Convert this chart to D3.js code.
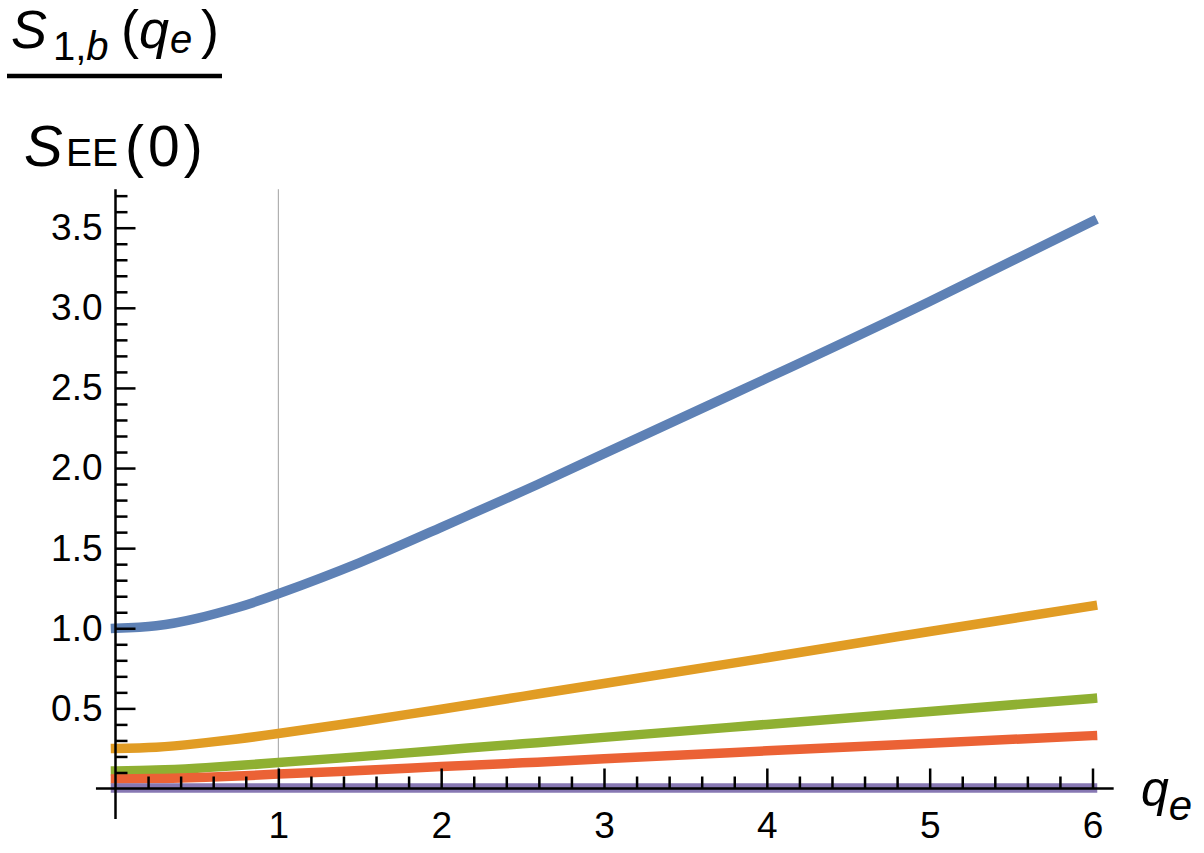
<!DOCTYPE html>
<html><head><meta charset="utf-8">
<script src="https://cdn.jsdelivr.net/npm/d3@7"></script>
<style>body{margin:0;background:#fff}svg{display:block}</style>
</head><body>
<svg id="c" width="1204" height="853"></svg>
<script>
const qe     = [0, 0.25, 0.5, 0.75, 1, 1.5, 2, 2.5, 3, 4, 5, 6];
const blue   = [1.00, 1.016, 1.062, 1.13, 1.215, 1.41, 1.63, 1.855, 2.09, 2.56, 3.04, 3.54];
const orange = [0.25, 0.258, 0.28, 0.309, 0.343, 0.417, 0.495, 0.575, 0.655, 0.816, 0.98, 1.14];
const green  = [0.11, 0.115, 0.127, 0.143, 0.162, 0.199, 0.239, 0.279, 0.319, 0.40, 0.481, 0.562];
const red    = [0.06, 0.062, 0.068, 0.078, 0.09, 0.112, 0.137, 0.16, 0.185, 0.235, 0.283, 0.33];
const purple = [0.003, 0.003, 0.003, 0.003, 0.003, 0.003, 0.003, 0.003, 0.003, 0.003, 0.003, 0.003];
const seriesColors = ["#5E81B5","#E19C24","#8FB032","#EB6235","#8778B3"];
const xMajor = [1,2,3,4,5,6];
const yMajor = [0.5,1.0,1.5,2.0,2.5,3.0,3.5];

const svg = d3.select("#c");
const x = d3.scaleLinear().domain([0, 6]).range([115.5, 1092.5]);
const y = d3.scaleLinear().domain([0, 3.5]).range([788.5, 227.7]);
const font = "'Liberation Sans', Arial, sans-serif";

// gridline at x=1
svg.append("line").attr("x1", x(1)).attr("x2", x(1))
  .attr("y1", y(3.74)).attr("y2", y(0))
  .attr("stroke", "#a0a0a0").attr("stroke-width", 1);

// curves
const all = [blue, orange, green, red, purple];
const line = d3.line().x(d => x(d[0])).y(d => y(d[1])).curve(d3.curveNatural);
all.forEach((s, i) => {
  svg.append("path").datum(qe.map((q, j) => [q, s[j]]))
    .attr("d", line).attr("fill", "none")
    .attr("stroke", seriesColors[i]).attr("stroke-width", 9.5)
    .attr("stroke-linecap", "square");
});

// axes lines
svg.append("line").attr("x1", x(-0.12)).attr("x2", x(6.13))
  .attr("y1", y(0)).attr("y2", y(0)).attr("stroke", "#000").attr("stroke-width", 2.5);
svg.append("line").attr("x1", x(0)).attr("x2", x(0))
  .attr("y1", y(-0.19)).attr("y2", y(3.74)).attr("stroke", "#000").attr("stroke-width", 2.5);

// x axis ticks
const xMinor = d3.range(1, 31).map(i => i * 0.2).filter(v => Math.abs(v - Math.round(v)) > 1e-6);
const xa = svg.append("g").attr("transform", `translate(0,${y(0)})`)
  .call(d3.axisBottom(x).tickValues(xMajor).tickSize(-20).tickPadding(23).tickFormat(d3.format("d")));
const xm = svg.append("g").attr("transform", `translate(0,${y(0)})`)
  .call(d3.axisBottom(x).tickValues(xMinor).tickSize(-12).tickFormat(""));
// y axis ticks
const yMinor = d3.range(1, 38).map(i => i / 10).filter(v => Math.abs(v * 2 - Math.round(v * 2)) > 1e-6);
const ya = svg.append("g").attr("transform", `translate(${x(0)},0)`)
  .call(d3.axisLeft(y).tickValues(yMajor).tickSize(-20).tickPadding(13).tickFormat(d3.format(".1f")));
const ym = svg.append("g").attr("transform", `translate(${x(0)},0)`)
  .call(d3.axisLeft(y).tickValues(yMinor).tickSize(-12).tickFormat(""));
[xa, xm, ya, ym].forEach(g => {
  g.select(".domain").remove();
  g.selectAll("line").attr("stroke", "#000").attr("stroke-width", 2.5);
  g.selectAll("text").attr("font-family", font).attr("font-size", 37).attr("fill", "#000");
});

// x axis label q_e
const xl = svg.append("text").attr("x", 1141).attr("y", 806).attr("font-family", font).attr("fill", "#000");
xl.append("tspan").attr("font-style", "italic").attr("font-size", 50).text("q");
xl.append("tspan").attr("font-style", "italic").attr("font-size", 42).attr("dy", 14).text("e");

// y axis label (fraction)
const num = svg.append("text").attr("y", 48).attr("font-family", font).attr("fill", "#000");
num.append("tspan").attr("x", 11).attr("font-style", "italic").attr("font-size", 54).text("S");
num.append("tspan").attr("x", 53).attr("font-size", 40).attr("dy", 12).text("1,");
num.append("tspan").attr("font-style", "italic").attr("font-size", 40).text("b");
num.append("tspan").attr("x", 121).attr("font-size", 54).attr("dy", -12).text("(");
num.append("tspan").attr("font-style", "italic").attr("font-size", 54).text("q");
num.append("tspan").attr("x", 170).attr("font-style", "italic").attr("font-size", 40).attr("dy", 5).text("e");
num.append("tspan").attr("x", 201).attr("font-size", 54).attr("dy", -5).text(")");

svg.append("line").attr("x1", 7).attr("x2", 222).attr("y1", 76).attr("y2", 76)
  .attr("stroke", "#000").attr("stroke-width", 4.5);

const den = svg.append("text").attr("y", 166).attr("font-family", font).attr("fill", "#000");
den.append("tspan").attr("x", 24).attr("font-style", "italic").attr("font-size", 58).text("S");
den.append("tspan").attr("x", 66).attr("font-size", 39).text("EE");
den.append("tspan").attr("x", 125).attr("font-size", 57).attr("letter-spacing", 4).text("(0)");
</script>
</body></html>
